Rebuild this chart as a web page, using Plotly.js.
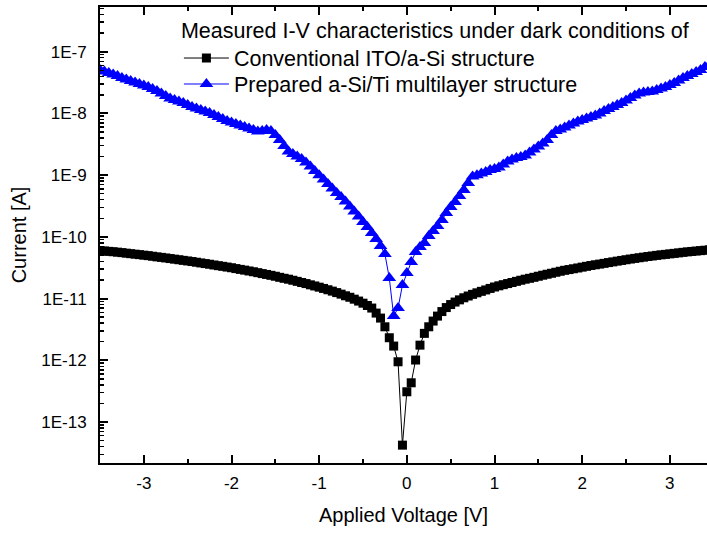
<!DOCTYPE html>
<html>
<head>
<meta charset="utf-8">
<script src="https://cdn.plot.ly/plotly-3.0.1.min.js"></script>
<style>html,body{margin:0;padding:0;background:#fff;overflow:hidden}#chart{width:707px;height:533px}</style>
</head>
<body>
<div id="chart"></div>
<script>
// Applied voltage sweep [V]
var voltage = [
-3.50,-3.45,-3.40,-3.35,-3.30,-3.25,-3.20,-3.15,-3.10,-3.05,
-3.00,-2.95,-2.90,-2.85,-2.80,-2.75,-2.70,-2.65,-2.60,-2.55,
-2.50,-2.45,-2.40,-2.35,-2.30,-2.25,-2.20,-2.15,-2.10,-2.05,
-2.00,-1.95,-1.90,-1.85,-1.80,-1.75,-1.70,-1.65,-1.60,-1.55,
-1.50,-1.45,-1.40,-1.35,-1.30,-1.25,-1.20,-1.15,-1.10,-1.05,
-1.00,-0.95,-0.90,-0.85,-0.80,-0.75,-0.70,-0.65,-0.60,-0.55,
-0.50,-0.45,-0.40,-0.35,-0.30,-0.25,-0.20,-0.15,-0.10,-0.05,
0.00,
0.05,0.10,0.15,0.20,0.25,0.30,0.35,0.40,0.45,0.50,
0.55,0.60,0.65,0.70,0.75,0.80,0.85,0.90,0.95,1.00,
1.05,1.10,1.15,1.20,1.25,1.30,1.35,1.40,1.45,1.50,
1.55,1.60,1.65,1.70,1.75,1.80,1.85,1.90,1.95,2.00,
2.05,2.10,2.15,2.20,2.25,2.30,2.35,2.40,2.45,2.50,
2.55,2.60,2.65,2.70,2.75,2.80,2.85,2.90,2.95,3.00,
3.05,3.10,3.15,3.20,3.25,3.30,3.35,3.40,3.45,3.50
];
// Conventional ITO/a-Si structure, current [A]
var currentITO = [
6.00e-11,5.91e-11,5.82e-11,5.74e-11,5.65e-11,5.55e-11,5.44e-11,5.34e-11,5.24e-11,5.15e-11,
5.05e-11,4.96e-11,4.85e-11,4.74e-11,4.65e-11,4.55e-11,4.45e-11,4.35e-11,4.26e-11,4.16e-11,
4.07e-11,3.98e-11,3.88e-11,3.78e-11,3.69e-11,3.60e-11,3.50e-11,3.41e-11,3.33e-11,3.24e-11,
3.16e-11,3.06e-11,2.97e-11,2.89e-11,2.80e-11,2.72e-11,2.63e-11,2.54e-11,2.46e-11,2.38e-11,
2.30e-11,2.21e-11,2.13e-11,2.06e-11,1.98e-11,1.90e-11,1.82e-11,1.75e-11,1.67e-11,1.60e-11,
1.53e-11,1.46e-11,1.39e-11,1.32e-11,1.25e-11,1.18e-11,1.11e-11,1.05e-11,9.78e-12,9.11e-12,
8.42e-12,7.73e-12,7.02e-12,5.82e-12,4.83e-12,3.49e-12,2.32e-12,1.70e-12,9.46e-13,4.22e-14,
3.09e-13,
4.32e-13,1.01e-12,1.76e-12,2.73e-12,3.49e-12,4.32e-12,5.20e-12,6.16e-12,7.15e-12,8.00e-12,
8.78e-12,9.53e-12,1.03e-11,1.10e-11,1.17e-11,1.24e-11,1.31e-11,1.38e-11,1.46e-11,1.54e-11,
1.61e-11,1.68e-11,1.75e-11,1.82e-11,1.90e-11,1.98e-11,2.06e-11,2.13e-11,2.21e-11,2.30e-11,
2.39e-11,2.48e-11,2.57e-11,2.67e-11,2.77e-11,2.87e-11,2.95e-11,3.04e-11,3.13e-11,3.23e-11,
3.33e-11,3.43e-11,3.53e-11,3.62e-11,3.72e-11,3.83e-11,3.93e-11,4.04e-11,4.15e-11,4.26e-11,
4.37e-11,4.48e-11,4.59e-11,4.69e-11,4.80e-11,4.90e-11,5.01e-11,5.11e-11,5.20e-11,5.30e-11,
5.40e-11,5.50e-11,5.61e-11,5.71e-11,5.80e-11,5.89e-11,5.98e-11,6.07e-11,6.16e-11,6.25e-11
];
// Prepared a-Si/Ti multilayer structure, current [A]
var currentTi = [
5.05e-8,4.78e-8,4.52e-8,4.27e-8,4.04e-8,3.75e-8,3.54e-8,3.35e-8,3.17e-8,3.00e-8,
2.83e-8,2.68e-8,2.49e-8,2.31e-8,2.10e-8,1.91e-8,1.74e-8,1.65e-8,1.56e-8,1.47e-8,
1.37e-8,1.27e-8,1.20e-8,1.135e-8,1.07e-8,1.015e-8,9.42e-9,8.74e-9,8.11e-9,7.53e-9,
7.12e-9,6.73e-9,6.37e-9,6.02e-9,5.69e-9,5.38e-9,5.09e-9,5.18e-9,5.38e-9,5.18e-9,
4.47e-9,3.71e-9,2.96e-9,2.41e-9,2.20e-9,2.00e-9,1.82e-9,1.60e-9,1.38e-9,1.17e-9,
1.00e-9,8.48e-10,7.18e-10,6.07e-10,5.13e-10,4.42e-10,3.73e-10,3.10e-10,2.57e-10,2.13e-10,
1.74e-10,1.44e-10,1.15e-10,9.21e-11,7.10e-11,5.26e-11,2.15e-11,5.21e-12,7.01e-12,1.66e-11,
2.59e-11,
3.90e-11,5.67e-11,6.83e-11,7.93e-11,1.03e-10,1.24e-10,1.50e-10,1.87e-10,2.43e-10,3.04e-10,
3.66e-10,4.58e-10,5.73e-10,7.45e-10,9.49e-10,1.00e-9,1.06e-9,1.12e-9,1.21e-9,1.26e-9,
1.33e-9,1.49e-9,1.66e-9,1.79e-9,1.89e-9,1.97e-9,2.08e-9,2.32e-9,2.60e-9,2.91e-9,
3.25e-9,3.71e-9,4.47e-9,5.18e-9,5.48e-9,5.91e-9,6.37e-9,6.86e-9,7.39e-9,7.82e-9,
8.27e-9,8.74e-9,9.25e-9,9.96e-9,1.094e-8,1.18e-8,1.27e-8,1.37e-8,1.47e-8,1.62e-8,
1.78e-8,1.95e-8,2.10e-8,2.18e-8,2.22e-8,2.26e-8,2.39e-8,2.53e-8,2.68e-8,2.89e-8,
3.11e-8,3.41e-8,3.75e-8,4.04e-8,4.35e-8,4.69e-8,5.05e-8,5.65e-8,6.09e-8,6.32e-8
];
var seriesNames = ["Conventional ITO/a-Si structure", "Prepared a-Si/Ti multilayer structure"];
var legendTitle = "Measured I-V characteristics under dark conditions of";
var yTickVals = [1e-13, 1e-12, 1e-11, 1e-10, 1e-9, 1e-8, 1e-7];
var yTickText = ["1E-13", "1E-12", "1E-11", "1E-10", "1E-9", "1E-8", "1E-7"];
var xTickVals = [-3, -2, -1, 0, 1, 2, 3];
var xTickText = ["-3", "-2", "-1", "0", "1", "2", "3"];

// minor log ticks (2..9 within each decade of the visible range)
var yMinorVals = [];
for (var e = -14; e <= -7; e++) {
  for (var k = 2; k <= 9; k++) yMinorVals.push(k * Math.pow(10, e));
}

var FONT = "Liberation Sans, Arial, sans-serif";
var Y_RANGE = [-13.664, -6.276];

var traces = [
  {
    x: voltage, y: currentITO, name: seriesNames[0], type: "scatter", mode: "lines+markers",
    legend: "legend",
    line: {color: "#000000", width: 1},
    marker: {symbol: "square", size: 9, color: "#000000", line: {width: 0}}
  },
  {
    x: voltage, y: currentTi, name: seriesNames[1], type: "scatter", mode: "lines+markers",
    legend: "legend2",
    line: {color: "#0000ff", width: 1},
    marker: {symbol: "triangle-up", size: 12, color: "#0000ff", line: {width: 0}}
  }
];

var legendFont = {family: FONT, size: 21.5, color: "#000000"};

var layout = {
  width: 707, height: 533,
  margin: {l: 100, r: 0, t: 7, b: 70},
  paper_bgcolor: "#ffffff", plot_bgcolor: "#ffffff",
  font: {family: FONT, color: "#000000", size: 17},
  showlegend: true,
  legend: {
    x: 0.13, y: 0.9943, xanchor: "left", yanchor: "top",
    bgcolor: "rgba(0,0,0,0)", borderwidth: 0,
    font: legendFont,
    title: {text: legendTitle, font: legendFont},
    itemwidth: 45
  },
  legend2: {
    x: 0.13, y: 0.8311, xanchor: "left", yanchor: "middle",
    bgcolor: "rgba(0,0,0,0)", borderwidth: 0,
    font: legendFont,
    itemwidth: 45
  },
  xaxis: {
    range: [-3.5, 3.424], showgrid: false, zeroline: false,
    showline: true, linecolor: "#000000", linewidth: 2, mirror: "ticks",
    ticks: "inside", ticklen: 8, tickwidth: 2, tickcolor: "#000000",
    tickmode: "array", tickvals: xTickVals, ticktext: xTickText,
    ticklabelstandoff: 4,
    tickfont: {family: FONT, size: 17, color: "#000000"},
    minor: {ticks: "inside", ticklen: 4, tickwidth: 2, tickcolor: "#000000", dtick: 0.5, tick0: 0.5, showgrid: false},
    title: {text: "Applied Voltage [V]", font: {family: FONT, size: 20, color: "#000000"}, standoff: 16}
  },
  yaxis: {
    type: "log", range: Y_RANGE, showgrid: false, zeroline: false,
    showline: true, linecolor: "#000000", linewidth: 2, mirror: false,
    ticks: "inside", ticklen: 8, tickwidth: 2, tickcolor: "#000000",
    tickmode: "array", tickvals: yTickVals, ticktext: yTickText,
    ticklabelstandoff: 8,
    tickfont: {family: FONT, size: 17, color: "#000000"},
    minor: {ticks: "inside", ticklen: 4, tickwidth: 1.5, tickcolor: "#000000", tickmode: "array", tickvals: yMinorVals, showgrid: false},
    title: {text: "Current [A]", font: {family: FONT, size: 20, color: "#000000"}, standoff: 9}
  }
};

Plotly.newPlot("chart", traces, layout, {displayModeBar: false, staticPlot: true});
</script>
</body>
</html>
